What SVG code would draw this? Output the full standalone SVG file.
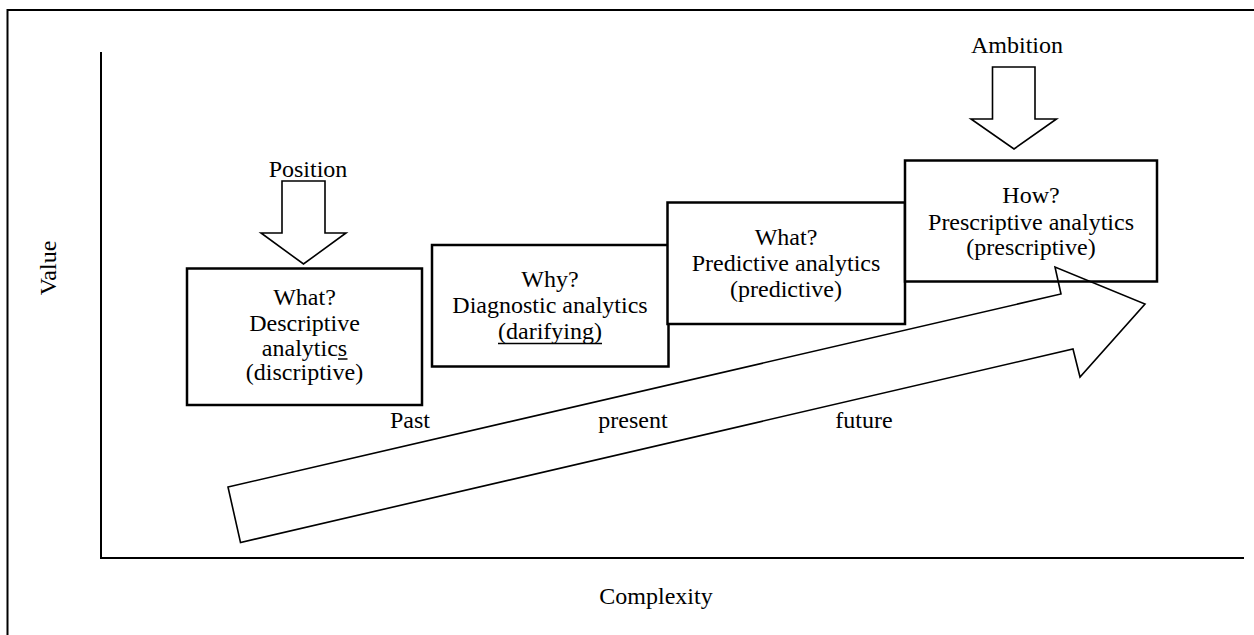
<svg xmlns="http://www.w3.org/2000/svg" width="1254" height="635" viewBox="0 0 1254 635">
<style>
text{font-family:"Liberation Serif","Times New Roman",serif;font-size:24px;fill:#000}
.c{text-anchor:middle}
.ul{stroke:#000;stroke-width:1.5}
.box{fill:#fff;stroke:#000;stroke-width:2.5}
.arr{fill:#fff;stroke:#000;stroke-width:1.6;stroke-linejoin:miter}
.big{fill:none;stroke:#000;stroke-width:1.6;stroke-linejoin:miter}
.ax{fill:none;stroke:#000;stroke-width:2}
</style>
<rect width="1254" height="635" fill="#fff"/>
<g id="frame">
<polyline class="ax" points="7.5,635 7.5,10 1254,10"/>
</g>
<g id="axes">
<polyline class="ax" points="101,52 101,558 1244,558"/>
<text x="0" y="0" class="c" transform="translate(56,268) rotate(-90)">Value</text>
<text x="656" y="604" class="c">Complexity</text>
</g>
<g id="labels">
<text x="308" y="177" class="c">Position</text>
<text x="1017" y="53" class="c">Ambition</text>
<text x="410" y="428" class="c">Past</text>
<text x="633" y="428" class="c">present</text>
<text x="864" y="428" class="c">future</text>
</g>
<g id="node-descriptive">
<rect class="box" x="187" y="268.5" width="235" height="136.5"/>
<text x="304.5" y="305" class="c">What?</text>
<text x="304.5" y="330.5" class="c">Descriptive</text>
<text x="304.5" y="355.5" class="c">analytics</text>
<line class="ul" x1="338" y1="359" x2="347.5" y2="359"/>
<text x="304.5" y="380" class="c">(discriptive)</text>
</g>
<g id="node-diagnostic">
<rect class="box" x="432" y="245" width="236.5" height="121.5"/>
<text x="550" y="287" class="c">Why?</text>
<text x="550" y="313" class="c">Diagnostic analytics</text>
<text x="550" y="339" class="c">(darifying)</text>
<line class="ul" x1="498" y1="343.5" x2="602" y2="343.5"/>
</g>
<g id="node-predictive">
<rect class="box" x="667.5" y="202.5" width="237.5" height="121.5"/>
<text x="786" y="244.5" class="c">What?</text>
<text x="786" y="271" class="c">Predictive analytics</text>
<text x="786" y="297" class="c">(predictive)</text>
</g>
<g id="node-prescriptive">
<rect class="box" x="905" y="160.5" width="252" height="121"/>
<text x="1031" y="203" class="c">How?</text>
<text x="1031" y="229.5" class="c">Prescriptive analytics</text>
<text x="1031" y="255" class="c">(prescriptive)</text>
</g>
<g id="connectors">
<polygon id="big-arrow" class="big" points="228,487 1061,294 1055,267 1145,304 1080,377 1073,349 240.5,542.5"/>
<polygon id="position-arrow" class="arr" points="282,181 325,181 325,233 346,233 303.5,264 261,233 282,233"/>
<polygon id="ambition-arrow" class="arr" points="992.5,67 1035,67 1035,119 1056.5,119 1014,149 971,119 992.5,119"/>
</g>
</svg>
